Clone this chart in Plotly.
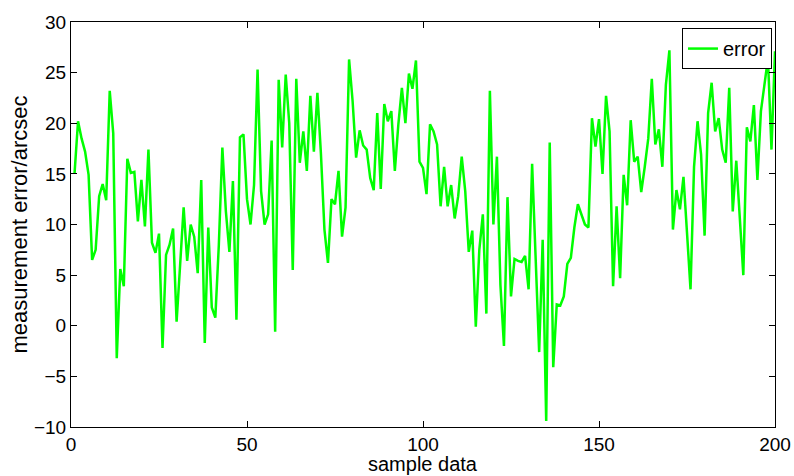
import plotly.graph_objects as go

error_values = [
    15.0, 20.2, 18.5, 17.2, 14.9, 6.5, 7.5, 12.8, 14.0, 12.4,
    23.2, 19.0, -3.2, 5.6, 3.9, 16.5, 15.1, 15.2, 10.3, 14.4,
    9.8, 17.4, 8.2, 7.2, 9.1, -2.2, 7.0, 8.0, 9.6, 0.4,
    6.0, 11.7, 6.4, 10.0, 8.8, 5.2, 14.4, -1.7, 9.7, 1.8,
    0.8, 8.0, 17.6, 11.3, 7.3, 14.3, 0.6, 18.6, 18.9, 12.5,
    10.0, 13.9, 25.3, 13.3, 10.0, 11.0, 18.3, -0.6, 24.3, 17.6,
    24.8, 20.0, 5.5, 24.4, 16.1, 19.2, 15.3, 22.7, 17.2, 23.0,
    17.0, 9.5, 6.2, 12.5, 12.0, 15.3, 8.8, 11.7, 26.3, 22.2,
    16.6, 19.3, 17.8, 17.4, 14.6, 13.4, 21.0, 13.5, 21.9, 20.2,
    21.2, 15.3, 19.9, 23.5, 20.0, 24.9, 23.4, 26.2, 16.2, 15.6,
    13.0, 19.9, 19.2, 17.9, 11.8, 15.7, 11.8, 13.9, 10.6, 12.8,
    16.7, 13.3, 7.3, 9.4, -0.1, 7.5, 11.0, 1.2, 23.2, 10.0,
    16.7, 4.0, -2.0, 12.7, 2.9, 6.6, 6.4, 6.3, 6.9, 3.6,
    16.0, 7.5, -2.6, 8.5, -9.4, 18.1, -4.1, 2.1, 2.0, 2.9,
    6.1, 6.7, 9.7, 12.0, 11.1, 10.0, 9.7, 20.5, 17.7, 20.4,
    15.0, 22.7, 19.2, 3.9, 11.8, 4.7, 14.9, 11.9, 20.3, 16.2,
    16.7, 13.2, 15.7, 18.5, 24.4, 17.9, 19.4, 15.7, 23.8, 27.2,
    9.5, 13.4, 11.5, 14.7, 9.2, 3.6, 15.7, 20.2, 16.9, 8.9,
    21.0, 24.0, 19.2, 20.5, 17.4, 16.1, 23.5, 11.3, 16.3, 10.5,
    5.0, 19.6, 18.2, 21.8, 14.4, 21.2, 24.0, 26.4, 17.4, 27.1,
]
sample_index = list(range(1, len(error_values) + 1))

x_ticks = [0, 50, 100, 150, 200]
y_ticks = [-10, -5, 0, 5, 10, 15, 20, 25, 30]

x_title = "sample data"
y_title = "measurement error/arcsec"

font_family = "Liberation Sans, Arial, sans-serif"

fig = go.Figure()
fig.add_trace(go.Scatter(
    x=sample_index, y=error_values, mode="lines", name="error",
    line=dict(color="#00ff00", width=2.5),
))

axis_common = dict(
    showgrid=False, zeroline=False, showline=True, linecolor="black",
    linewidth=1, mirror="ticks", ticks="inside", ticklen=6,
    tickcolor="black", automargin=False,
    tickfont=dict(family=font_family, size=19, color="black"),
)

fig.update_layout(
    width=794, height=476,
    margin=dict(l=71, r=19, t=22, b=49),
    paper_bgcolor="white", plot_bgcolor="white",
    font=dict(family=font_family, size=19, color="black"),
    showlegend=True,
    legend=dict(
        x=0.9957, y=0.985, xanchor="right", yanchor="top",
        bgcolor="white", bordercolor="black", borderwidth=1,
        font=dict(family=font_family, size=20, color="black"),
        itemwidth=30, tracegroupgap=0,
    ),
    xaxis=dict(range=[0, 200], tickvals=x_ticks, **axis_common),
    yaxis=dict(
        range=[-10, 30], tickvals=y_ticks,
        title=dict(text=y_title, standoff=0,
                   font=dict(family=font_family, size=22)),
        **axis_common,
    ),
)

fig.add_annotation(
    text=x_title, xref="paper", yref="paper", x=0.5, y=0,
    xanchor="center", yanchor="top", yshift=-24.5, showarrow=False,
    borderpad=0,
    font=dict(family=font_family, size=20, color="black"),
)

fig.write_html(
    "out.html",
    config={"displayModeBar": False},
    post_script="document.body.style.margin='0';document.body.style.overflow='hidden';",
)
